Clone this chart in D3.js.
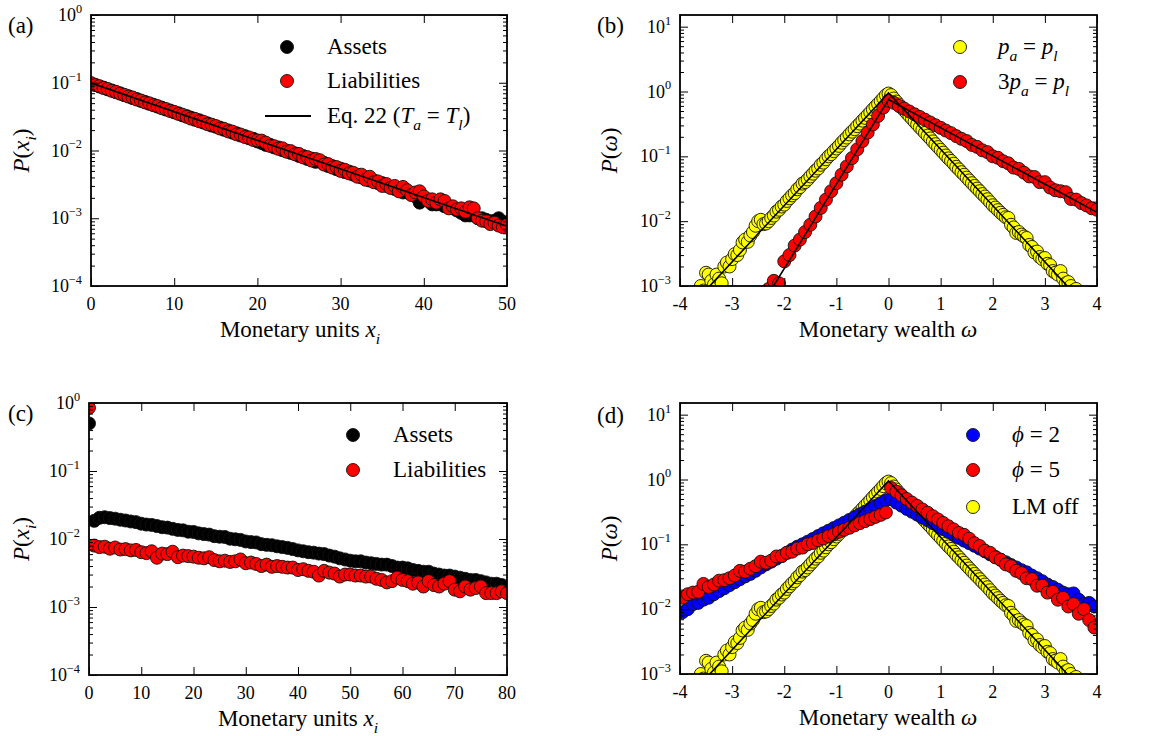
<!DOCTYPE html>
<html><head><meta charset="utf-8">
<script src="https://cdn.jsdelivr.net/npm/d3@7"></script>
<style>
body{margin:0;background:#fff}
svg{display:block}
</style>
</head><body>
<svg id="c" width="1151" height="736" font-family="Liberation Serif"></svg>
<script>
// ---------- Panel (a): x = 0,0.5,...,50 ----------
const aX0 = 0, aDX = 0.5;
const aAssets = [
.0965,.0935,.0880,.0848,.0798,.0770,.0724,.0698,.0656,.0634,
.0594,.0575,.0540,.0522,.0489,.0474,.0444,.0430,.0402,.0390,
.0365,.0355,.0330,.0322,.0306,.0284,.0280,.0258,.0252,.0233,
.0224,.0218,.0202,.0198,.0183,.0180,.0166,.0163,.0151,.0149,
.0136,.0129,.0121,.0122,.0111,.0111,.0101,.0100,.0092,.0091,
.0083,.0083,.0075,.0076,.0068,.0069,.0066,.0059,.0059,.0053,
.0054,.0048,.0049,.0044,.0044,.0040,.0040,.0036,.0036,.0033,
.0033,.0030,.0029,.0027,.0027,.0024,.0024,.0023,.0021,.0017,
.0019,.0019,.0016,.0016,.0016,.0015,.0015,.0014,.0013,.0012,
.0011,.0011,.0011,.0010,.0010,.00095,.00090,.00092,.00100,.00078,
.00088];
const aLiab = [
.0990,.0925,.0890,.0838,.0810,.0760,.0735,.0690,.0665,.0625,
.0606,.0565,.0548,.0512,.0498,.0466,.0452,.0421,.0410,.0383,
.0372,.0347,.0338,.0314,.0296,.0293,.0270,.0266,.0244,.0241,
.0230,.0211,.0209,.0191,.0190,.0173,.0172,.0158,.0156,.0143,
.0141,.0140,.0131,.0117,.0116,.0106,.0108,.0096,.0098,.0088,
.0089,.0079,.0080,.0071,.0075,.0072,.0062,.0063,.0056,.0057,
.0050,.0052,.0046,.0047,.0041,.0044,.0037,.0041,.0034,.0035,
.0030,.0032,.0028,.0030,.0025,.0029,.0026,.0022,.0024,.0025,
.0021,.0018,.0019,.0017,.0019,.0018,.0014,.0015,.00135,.00140,
.00125,.00145,.00140,.00100,.00092,.00090,.00082,.00086,.00078,.00074,
.00080];
const aFitX = [0, 50], aFitY = [0.099, 0.00076];

// ---------- Panel (b) ----------
const yelX0 = -3.7, yelDX = 0.05;
const yellow = [
.00075,.00080,.00100,.00085,.00160,.00150,.00120,.00105,.00150,.00130,
.00110,.00200,.00230,.00200,.00260,.0031,.0030,.0036,.0047,.0052,
.0048,.0060,.0068,.0085,.0100,.0105,.0090,.0092,.0100,.0112,
.0122,.0140,.0150,.0168,.0180,.0205,.0225,.0250,.0270,.0310,
.0335,.0380,.0400,.0440,.0490,.0540,.0600,.0650,.0740,.0800,
.0900,.1000,.1080,.1200,.1320,.145,.162,.178,.195,.218,
.240,.262,.292,.320,.355,.392,.432,.478,.530,.585,
.645,.712,.790,.875,.930,.880,.780,.700,.630,.570,
.515,.465,.420,.380,.342,.310,.280,.255,.230,.208,
.189,.170,.154,.139,.126,.114,.103,.093,.085,.077,
.069,.063,.057,.052,.047,.0425,.0385,.0350,.0318,.0290,
.0262,.0240,.0218,.0196,.0176,.0162,.0148,.0135,.0125,.0115,
.0112,.0088,.0080,.0066,.0068,.0062,.0058,.0055,.0043,.0040,
.0033,.0034,.0028,.0026,.0027,.0022,.0021,.0017,.0016,.0015,
.0017,.0013,.0011,.00115,.0010,.00085,.00090,.00075,.00070];
const bRedX0 = -2.3, bRedDX = 0.1;
const bRed = [
.0009,.0012,.0011,.0024,.0030,.0042,.0052,.0068,.0088,.0118,
.0160,.0215,.0290,.0385,.0520,.0700,.0940,.128,.172,.232,
.310,.420,.565,.72,.670,.600,.545,.492,.445,.405,
.368,.333,.302,.275,.250,.228,.205,.186,.172,.150,
.140,.124,.116,.100,.0950,.0840,.0780,.0670,.0640,.0560,
.0490,.0480,.0400,.0400,.0330,.0300,.0290,.0280,.0220,.0215,
.0190,.0175,.0158,.0150];
const yelFitX = [-4, 0, 4], yelFitY = [0.000319, 0.95, 0.000319];
const redFitX = [-4, 0, 4], redFitY = [0.0000046, 0.75, 0.0137];

// ---------- Panel (c): x = 0..80 ----------
const cX0 = 0, cDX = 1;
const cAssets = [
.50,.0185,.0205,.0209,.0203,.0199,.0192,.0187,.0181,.0177,
.0168,.0163,.0161,.0155,.0149,.0147,.0141,.0136,.0134,.0128,
.0127,.0121,.0118,.0116,.0110,.0108,.0107,.0101,.0099,.0097,
.0092,.0090,.0089,.0084,.0082,.0081,.0078,.0076,.0074,.0071,
.0068,.0066,.0064,.0063,.0061,.0060,.0057,.0055,.0052,.0050,
.0048,.0047,.0047,.0045,.0044,.0043,.0042,.0042,.0040,.0038,
.0038,.0037,.0035,.0034,.0033,.0033,.0031,.0030,.0029,.0029,
.0028,.0027,.0026,.0025,.0025,.0024,.0023,.0022,.0022,.0021,
.0020];
const cLiab = [
.85,.0080,.0076,.0077,.0072,.0075,.0070,.0071,.0068,.0069,
.0064,.0062,.0066,.0053,.0061,.0060,.0065,.0054,.0057,.0056,
.0055,.0053,.0052,.0054,.0049,.0047,.0048,.0046,.0047,.0050,
.0044,.0045,.0043,.0040,.0042,.0039,.0040,.0039,.0038,.0038,
.0035,.0036,.0034,.0033,.0029,.0034,.0032,.0031,.0028,.0030,
.0030,.0029,.0029,.0028,.0028,.0026,.0025,.0023,.0024,.0027,
.0025,.0024,.0022,.0023,.0020,.0024,.0021,.0020,.0022,.0024,
.0018,.0017,.0020,.0018,.0019,.0020,.0016,.0016,.0016,.0017,
.0016];

// ---------- Panel (d): omega = -3.95..3.95 ----------
const dX0 = -3.95, dDX = 0.1;
const dBlue = [
.0090,.0100,.0120,.0125,.0140,.0150,.0170,.0190,.0210,.0235,
.026,.029,.032,.035,.039,.044,.049,.054,.060,.066,
.074,.083,.092,.100,.110,.121,.134,.148,.162,.178,
.196,.216,.238,.262,.290,.320,.352,.390,.432,.480,
.500,.440,.395,.352,.318,.288,.260,.235,.212,.190,
.172,.155,.140,.126,.114,.104,.095,.086,.078,.070,
.064,.058,.053,.048,.044,.040,.037,.033,.030,.027,
.024,.022,.020,.018,.017,.0175,.014,.012,.0125,.011];
const dRed = [
.0150,.0170,.0180,.0185,.0245,.0220,.0240,.0275,.0280,.0300,
.0330,.0390,.0380,.0420,.0460,.0540,.0520,.0560,.0650,.0660,
.0740,.0770,.0860,.0890,.1000,.1050,.1150,.1230,.1340,.1420,
.1560,.1680,.1800,.1960,.2120,.2280,.2450,.2650,.2850,.3100,
.740,.650,.570,.500,.440,.392,.345,.308,.272,.242,
.214,.190,.170,.150,.140,.122,.104,.094,.080,.074,
.063,.058,.049,.046,.039,.036,.030,.029,.023,.023,
.0180,.0185,.0140,.0150,.0110,.0120,.0085,.0100,.0068,.0052];

// ---------- Tick values ----------
const aXTicks = [0,10,20,30,40,50];
const cXTicks = [0,10,20,30,40,50,60,70,80];
const wXTicks = [-4,-3,-2,-1,0,1,2,3,4];
const xYExp = [-4,-3,-2,-1,0];
const wYExp = [-3,-2,-1,0,1];

// ---------- Drawing ----------
const FONT = 'Liberation Serif';
const svg = d3.select('#c');
const RED = '#ff0000', YEL = '#ffff00', BLU = '#0000ff', BLK = '#000000';

function txt(parent){
  return parent.append('text').attr('font-family', FONT).attr('fill', '#000');
}
function rich(t, segs, fs){
  let cur = 0;
  segs.forEach(s => {
    const str = s[0], st = s[1] || '';
    const sub = st.includes('b'), sup = st.includes('p'), it = st.includes('i');
    const target = sub ? fs*0.3 : (sup ? -fs*0.45 : 0);
    const ts = t.append('tspan').attr('font-family', FONT).text(str);
    if (target - cur !== 0) ts.attr('dy', target - cur);
    cur = target;
    if (it) ts.attr('font-style', 'italic');
    if (sub || sup) ts.attr('font-size', fs*0.68);
  });
}

function panel(cfg){
  const g = svg.append('g');
  const x = d3.scaleLinear().domain(cfg.xd).range([cfg.l, cfg.r]);
  const y = d3.scaleLog().domain(cfg.yd).range([cfg.b, cfg.t]);
  const cid = 'clip' + cfg.name;
  svg.append('clipPath').attr('id', cid).append('rect')
    .attr('x', cfg.l).attr('y', cfg.t).attr('width', cfg.r - cfg.l).attr('height', cfg.b - cfg.t);
  const plot = g.append('g').attr('clip-path', `url(#${cid})`);
  cfg.series.forEach(s => {
    plot.append('g').selectAll('circle').data(s.v).join('circle')
      .attr('cx', (d, i) => x(s.x0 + i*s.dx))
      .attr('cy', d => y(d))
      .attr('r', 6.5)
      .attr('fill', s.fill).attr('stroke', '#111').attr('stroke-width', 0.9);
  });
  cfg.lines.forEach(L => {
    plot.append('path').datum(L.x.map((v, i) => [v, L.y[i]]))
      .attr('d', d3.line().x(d => x(d[0])).y(d => y(d[1])))
      .attr('fill', 'none').attr('stroke', '#000').attr('stroke-width', 1.6);
  });
  // ticks
  const majors = cfg.yExp.map(e => Math.pow(10, e));
  const minors = [];
  const lo = Math.floor(Math.log10(cfg.yd[0])), hi = Math.ceil(Math.log10(cfg.yd[1]));
  for (let e = lo; e < hi; e++) for (let m = 2; m <= 9; m++) {
    const v = m * Math.pow(10, e);
    if (v > cfg.yd[0] && v < cfg.yd[1]) minors.push(v);
  }
  const style = s => { s.select('.domain').remove(); s.selectAll('line').attr('stroke', '#000').attr('stroke-width', 1); };
  g.append('g').attr('transform', `translate(${cfg.l},0)`).call(d3.axisLeft(y).tickValues(majors).tickSize(-8).tickFormat('')).call(style);
  g.append('g').attr('transform', `translate(${cfg.l},0)`).call(d3.axisLeft(y).tickValues(minors).tickSize(-4).tickFormat('')).call(style);
  g.append('g').attr('transform', `translate(${cfg.r},0)`).call(d3.axisRight(y).tickValues(majors).tickSize(-8).tickFormat('')).call(style);
  g.append('g').attr('transform', `translate(${cfg.r},0)`).call(d3.axisRight(y).tickValues(minors).tickSize(-4).tickFormat('')).call(style);
  g.append('g').attr('transform', `translate(0,${cfg.b})`).call(d3.axisBottom(x).tickValues(cfg.xTicks).tickSize(-8).tickFormat('')).call(style);
  g.append('g').attr('transform', `translate(0,${cfg.t})`).call(d3.axisTop(x).tickValues(cfg.xTicks).tickSize(-8).tickFormat('')).call(style);
  g.append('rect').attr('x', cfg.l).attr('y', cfg.t).attr('width', cfg.r - cfg.l).attr('height', cfg.b - cfg.t)
    .attr('fill', 'none').attr('stroke', '#000').attr('stroke-width', 1.8);
  // tick labels
  cfg.yExp.forEach(e => {
    const t = txt(g).attr('x', cfg.l - 9).attr('y', y(Math.pow(10, e)) + 6)
      .attr('text-anchor', 'end').attr('font-size', 18);
    rich(t, [['10'], [e < 0 ? '\u2212' + (-e) : String(e), 'p']], 18);
  });
  cfg.xTicks.forEach(v => {
    txt(g).attr('x', x(v)).attr('y', cfg.b + 24).attr('text-anchor', 'middle')
      .attr('font-size', 18).text(String(v));
  });
  // axis titles
  const xt = txt(g).attr('x', cfg.xtx).attr('y', cfg.b + 51).attr('text-anchor', 'middle').attr('font-size', 23);
  rich(xt, cfg.xTitle, 23);
  const yt = txt(g).attr('transform', `translate(${cfg.ytx},${(cfg.t + cfg.b)/2}) rotate(-90)`)
    .attr('text-anchor', 'middle').attr('dy', '0.35em').attr('font-size', 23);
  rich(yt, cfg.yTitle, 23);
  // panel label
  txt(g).attr('x', cfg.plx).attr('y', cfg.ply).attr('font-size', 23).text(cfg.label);
  // legend
  cfg.legend.items.forEach((it, k) => {
    const yy = cfg.legend.ys[k];
    if (it.fill) {
      g.append('circle').attr('cx', cfg.legend.mx).attr('cy', yy).attr('r', 6.5)
        .attr('fill', it.fill).attr('stroke', '#111').attr('stroke-width', 0.9);
    } else {
      g.append('line').attr('x1', cfg.legend.mx - 22).attr('x2', cfg.legend.mx + 24)
        .attr('y1', yy).attr('y2', yy).attr('stroke', '#000').attr('stroke-width', 1.8);
    }
    const t = txt(g).attr('x', cfg.legend.tx).attr('y', yy + 7).attr('font-size', 23);
    rich(t, it.text, 23);
  });
}

const xiTitle = [['Monetary units '], ['x', 'i'], ['i', 'ib']];
const wTitle = [['Monetary wealth '], ['\u03C9', 'i']];
const pxTitle = [['P', 'i'], ['('], ['x', 'i'], ['i', 'ib'], [')']];
const pwTitle = [['P', 'i'], ['('], ['\u03C9', 'i'], [')']];

panel({name: 'a', l: 91, t: 15, r: 507, b: 286, xd: [0, 50], yd: [1e-4, 1], xTicks: aXTicks, yExp: xYExp,
  series: [{v: aAssets, x0: aX0, dx: aDX, fill: BLK}, {v: aLiab, x0: aX0, dx: aDX, fill: RED}],
  lines: [{x: aFitX, y: aFitY}],
  xTitle: xiTitle, xtx: 300, yTitle: pxTitle, ytx: 21, label: '(a)', plx: 8, ply: 33,
  legend: {mx: 287, tx: 327, ys: [47, 81, 116], items: [
    {fill: BLK, text: [['Assets']]},
    {fill: RED, text: [['Liabilities']]},
    {text: [['Eq. 22 ('], ['T', 'i'], ['a', 'ib'], [' = '], ['T', 'i'], ['l', 'ib'], [')']]}]}
});

panel({name: 'b', l: 680, t: 15, r: 1097, b: 286, xd: [-4, 4], yd: [1e-3, Math.pow(10, 1.18)], xTicks: wXTicks, yExp: wYExp,
  series: [{v: yellow, x0: yelX0, dx: yelDX, fill: YEL}, {v: bRed, x0: bRedX0, dx: bRedDX, fill: RED}],
  lines: [{x: yelFitX, y: yelFitY}, {x: redFitX, y: redFitY}],
  xTitle: wTitle, xtx: 888, yTitle: pwTitle, ytx: 609, label: '(b)', plx: 597, ply: 33,
  legend: {mx: 960, tx: 998, ys: [47, 82], items: [
    {fill: YEL, text: [['p', 'i'], ['a', 'ib'], [' = '], ['p', 'i'], ['l', 'ib']]},
    {fill: RED, text: [['3'], ['p', 'i'], ['a', 'ib'], [' = '], ['p', 'i'], ['l', 'ib']]}]}
});

panel({name: 'c', l: 89, t: 403, r: 507, b: 675, xd: [0, 80], yd: [1e-4, 1], xTicks: cXTicks, yExp: xYExp,
  series: [{v: cAssets, x0: cX0, dx: cDX, fill: BLK}, {v: cLiab, x0: cX0, dx: cDX, fill: RED}],
  lines: [],
  xTitle: xiTitle, xtx: 298, yTitle: pxTitle, ytx: 21, label: '(c)', plx: 8, ply: 421,
  legend: {mx: 353, tx: 393, ys: [435, 470], items: [
    {fill: BLK, text: [['Assets']]},
    {fill: RED, text: [['Liabilities']]}]}
});

panel({name: 'd', l: 680, t: 403, r: 1097, b: 674, xd: [-4, 4], yd: [1e-3, Math.pow(10, 1.18)], xTicks: wXTicks, yExp: wYExp,
  series: [{v: yellow, x0: yelX0, dx: yelDX, fill: YEL}, {v: dBlue, x0: dX0, dx: dDX, fill: BLU}, {v: dRed, x0: dX0, dx: dDX, fill: RED}],
  lines: [{x: yelFitX, y: yelFitY}],
  xTitle: wTitle, xtx: 888, yTitle: pwTitle, ytx: 609, label: '(d)', plx: 597, ply: 423,
  legend: {mx: 973, tx: 1012, ys: [435, 470, 507], items: [
    {fill: BLU, text: [['\u03D5', 'i'], [' = 2']]},
    {fill: RED, text: [['\u03D5', 'i'], [' = 5']]},
    {fill: YEL, text: [['LM off']]}]}
});
</script>
</body></html>
